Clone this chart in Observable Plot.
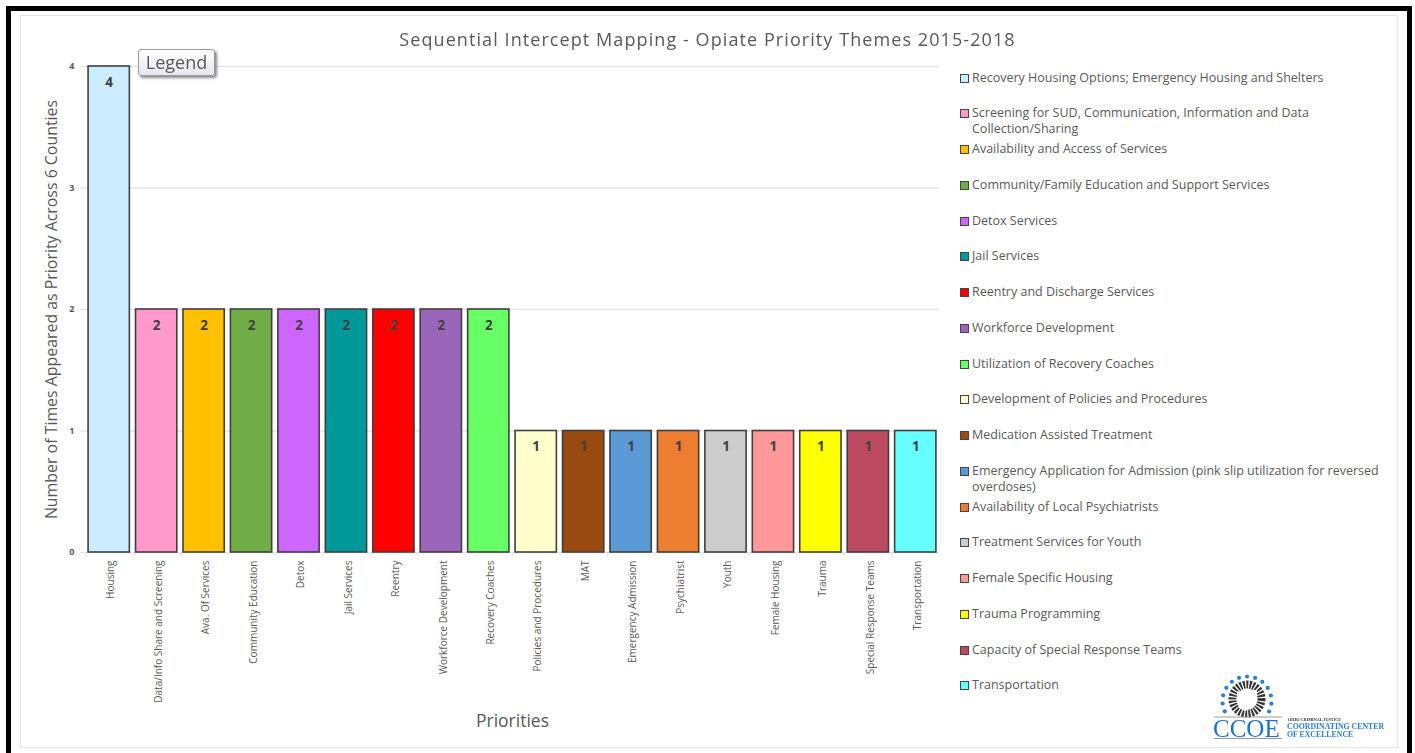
<!DOCTYPE html>
<html>
<head>
<meta charset="utf-8">
<script src="https://cdn.jsdelivr.net/npm/d3@7"></script>
<script src="https://cdn.jsdelivr.net/npm/@observablehq/plot@0.6"></script>
<style>
html,body{margin:0;padding:0;background:#fff;overflow:hidden}
#page{position:relative;width:1415px;height:753px;font-family:"Open Sans",sans-serif;color:#595959;overflow:hidden;filter:blur(.45px)}
#frame{position:absolute;left:6px;top:6px;height:760px;border:5px solid #000;box-sizing:content-box;width:1396px}
#panel{position:absolute;left:20px;top:15px;width:1378px;height:733px;border:1.5px solid #e2e2e2;background:#fff;box-sizing:border-box}
#chart{position:absolute;left:0;top:0}
#title{position:absolute;left:0;width:1415px;top:27px;text-align:center;font-size:18px;letter-spacing:1.08px;line-height:24px}
#legendBtn{position:absolute;left:138px;top:49px;width:77px;height:27px;box-sizing:border-box;border:1px solid #9a9a9a;border-radius:3px;background:linear-gradient(#fff,#e6e7f0);box-shadow:2px 2px 3px #888;text-align:center;font-size:18px;line-height:25px;color:#595959}
#legend{position:absolute;left:960px;top:59.6px;width:430px}
.row{height:35.76px;position:relative;font-size:12.5px;line-height:16px;padding-left:12px;box-sizing:border-box;padding-top:10px;color:#595959}
.sw{position:absolute;left:0;top:14px;width:9px;height:9px;box-sizing:border-box;border:1.4px solid #444}
#logo{position:absolute;left:0;top:0;pointer-events:none}
</style>
</head>
<body>
<div id="page">
  <div id="frame"></div>
  <div id="panel"></div>
  <div id="chart"></div>
  <div id="title"></div>
  <div id="legendBtn">Legend</div>
  <div id="legend"></div>
  <div id="logo"></div>
</div>
<script>
const chartTitle = "Sequential Intercept Mapping - Opiate Priority Themes 2015-2018";
const yTitle = "Number of Times Appeared as Priority Across 6 Counties";
const xTitle = "Priorities";
const categories = ["Housing","Data/Info Share and Screening","Ava. Of Services","Community Education","Detox","Jail Services","Reentry","Workforce Development","Recovery Coaches","Policies and Procedures","MAT","Emergency Admission","Psychiatrist","Youth","Female Housing","Trauma","Special Response Teams","Transportation"];
const counts = [4,2,2,2,2,2,2,2,2,1,1,1,1,1,1,1,1,1];
const barColors = ["#CCECFF","#FF99CC","#FFC000","#70AD47","#CC66FF","#009999","#FF0000","#9966BB","#66FF66","#FFFFCC","#994A0F","#5B9BD5","#ED7D31","#CCCCCC","#FF9999","#FFFF00","#BC4A60","#66FFFF"];
const legendLabels = ["Recovery Housing Options; Emergency Housing and Shelters","Screening for SUD, Communication, Information and Data Collection/Sharing","Availability and Access of Services","Community/Family Education and Support Services","Detox Services","Jail Services","Reentry and Discharge Services","Workforce Development","Utilization of Recovery Coaches","Development of Policies and Procedures","Medication Assisted Treatment","Emergency Application for Admission (pink slip utilization for reversed overdoses)","Availability of Local Psychiatrists","Treatment Services for Youth","Female Specific Housing","Trauma Programming","Capacity of Special Response Teams","Transportation"];
const yTicks = [0,1,2,3,4];
const data = categories.map((c,i)=>({category:c,count:counts[i]}));

const chart = Plot.plot({
  width:1415, height:753,
  marginLeft:85, marginRight:476, marginTop:66, marginBottom:201,
  style:{background:"transparent",fontFamily:'"Open Sans",sans-serif'},
  x:{domain:categories,paddingInner:0.13,paddingOuter:0.065,align:0.5,round:false},
  y:{domain:[0,4]},
  color:{domain:categories,range:barColors},
  marks:[
    Plot.ruleY(yTicks,{stroke:"#e4e4e4",strokeWidth:1.3}),
    Plot.axisY({ticks:yTicks,tickSize:5,stroke:"#e4e4e4",tickPadding:6,fontSize:9,fontWeight:"bold",fill:"#595959",tickFormat:d=>d,label:null}),
    Plot.axisX({tickRotate:-90,tickSize:0,tickPadding:8,fontSize:10,fill:"#595959",label:null,dx:2}),
    Plot.ruleX(categories,{x:d=>d,dx:-23.72,y1:0,y2:-0.035,stroke:"#e4e4e4"}),
    Plot.barY(data,{x:"category",y:"count",fill:"category",stroke:"#404040",strokeWidth:1.6}),
    Plot.text(data,{x:"category",y:"count",text:"count",dy:16,fontSize:13.5,fontWeight:"bold",fill:"#404040"}),
    Plot.text([yTitle],{frameAnchor:"left",textAnchor:"middle",text:d=>d,rotate:-90,dx:-34,fontSize:15.9,fill:"#595959"}),
    Plot.text([xTitle],{frameAnchor:"bottom",textAnchor:"middle",text:d=>d,dy:174,fontSize:17.5,fill:"#595959"})
  ]
});
document.getElementById("chart").appendChild(chart);
document.getElementById("title").textContent = chartTitle;

const legend = d3.select("#legend");
legendLabels.forEach((t,i)=>{
  const r = legend.append("div").attr("class","row").text(t);
  r.append("span").attr("class","sw").style("background",barColors[i]);
});

// CCOE logo decoration
const logo = d3.select("#logo").append("svg").attr("width",1415).attr("height",753);
logo.append("circle").attr("cx",1247).attr("cy",699).attr("r",14.5).attr("fill","#fff").attr("stroke","#333").attr("stroke-width",8).attr("stroke-dasharray","2 1.2");
logo.append("path").attr("d","M1237 691 l8 2 l9 -3 l3 0 l0 10 l-5 8 l-7 3 l-6 -3 l-2 -8z").attr("fill","#fff");
d3.range(13).forEach(k=>{
  const a = (-115 + k*19.2)*Math.PI/180;
  logo.append("circle").attr("cx",1247+24.5*Math.sin(a)).attr("cy",701-24.5*Math.cos(a)).attr("r",2.1).attr("fill","#2a7fd0");
});
logo.append("line").attr("x1",1214).attr("x2",1282).attr("y1",717).attr("y2",717).attr("stroke","#999");
logo.append("line").attr("x1",1214).attr("x2",1282).attr("y1",738.5).attr("y2",738.5).attr("stroke","#999");
const logoText = [
  ["CCOE",1213,737,25,"#1b75c4","normal"],
  ["OHIO CRIMINAL JUSTICE",1288,721,4.2,"#333","bold"],
  ["COORDINATING CENTER",1287,729,7.8,"#2a7fd0","bold"],
  ["OF EXCELLENCE",1287,737,7.8,"#2a7fd0","bold"]
];
logoText.forEach(([t,x,y,s,c,w])=>{
  logo.append("text").attr("x",x).attr("y",y).attr("font-size",s).attr("fill",c).attr("font-weight",w).attr("font-family",'"Liberation Serif",serif').text(t);
});
</script>
</body>
</html>
